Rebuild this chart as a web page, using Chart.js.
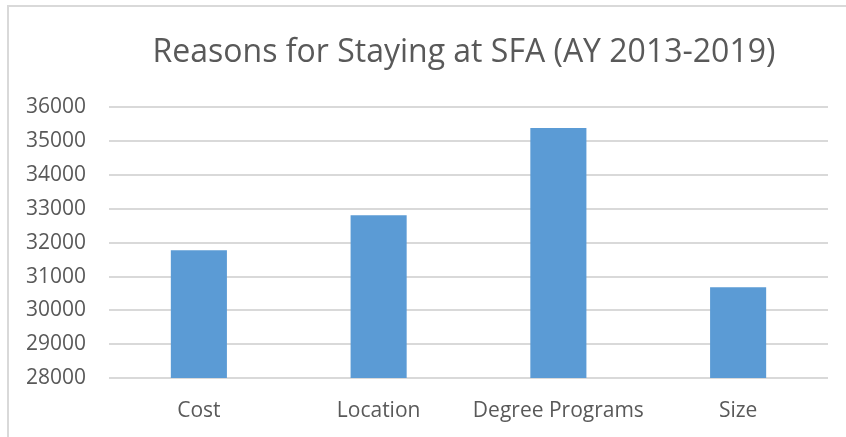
<!DOCTYPE html>
<html>
<head>
<meta charset="utf-8">
<script src="https://cdn.jsdelivr.net/npm/chart.js@4"></script>
<style>
  html, body { margin: 0; padding: 0; background: #fff; }
  #wrap { position: relative; width: 846px; height: 437px; overflow: hidden; }
  #frame {
    position: absolute; left: 7px; top: 5px; width: 900px; height: 500px;
    border-top: 2px solid #d9d9d9; border-left: 2px solid #d9d9d9;
    pointer-events: none;
  }
</style>
</head>
<body>
<div id="wrap">
  <canvas id="myChart" width="846" height="437"></canvas>
  <div id="frame"></div>
</div>
<script>
// data
const reasons = ['Cost', 'Location', 'Degree Programs', 'Size'];
const counts = [31780, 32810, 35390, 30680];
const yMin = 28000;
const yMax = 36000;
const yStep = 1000;

const textGrey = '#595959';
const gridGrey = '#d9d9d9';

// centre the title over the plot, like the original does
const titleShift = {
    id: 'titleShift',
    afterLayout(chart) {
        chart.titleBlock.left = 100;
        chart.titleBlock.right = 828;
    }
};

new Chart(document.getElementById('myChart'), {
    type: 'bar',
    data: {
        labels: reasons,
        datasets: [{
            label: 'Reasons for Staying',
            data: counts,
            backgroundColor: '#5b9bd5',
            borderWidth: 0,
            categoryPercentage: 1,
            barPercentage: 0.312
        }]
    },
    options: {
        responsive: false,
        animation: false,
        layout: { padding: { left: 0, right: 18, top: 0, bottom: 0 } },
        plugins: {
            legend: { display: false },
            tooltip: { enabled: false },
            title: {
                display: true,
                text: 'Reasons for Staying at SFA (AY 2013-2019)',
                color: textGrey,
                font: { family: 'Open Sans', size: 32, weight: 'normal' },
                padding: { top: 34, bottom: 35 }
            }
        },
        scales: {
            x: {
                grid: { display: false },
                border: { display: false },
                ticks: {
                    color: textGrey,
                    font: { family: 'Open Sans', size: 21 },
                    padding: 12
                },
                afterFit: (scale) => { scale.height = 59; }
            },
            y: {
                min: yMin,
                max: yMax,
                grid: { color: gridGrey, lineWidth: 2, drawTicks: false },
                border: { display: false },
                ticks: {
                    stepSize: yStep,
                    color: textGrey,
                    font: { family: 'Open Sans', size: 21 },
                    padding: 23,
                    callback: (v) => String(v)
                },
                afterFit: (scale) => { scale.width = 109; }
            }
        }
    },
    plugins: [titleShift]
});
</script>
</body>
</html>
